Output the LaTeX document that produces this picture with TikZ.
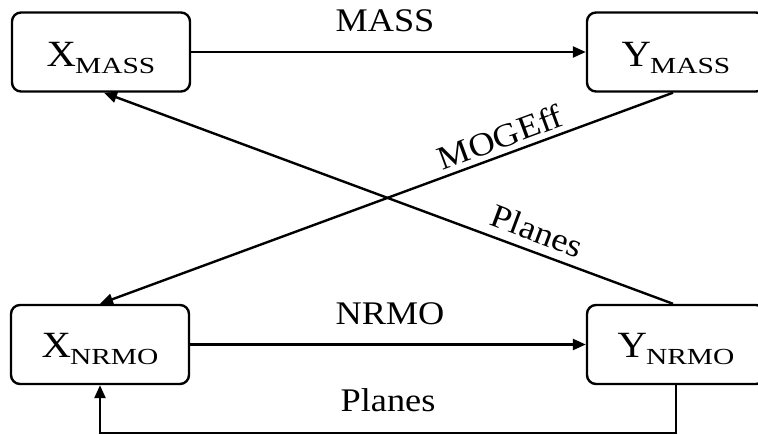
\documentclass[tikz,border=0pt]{standalone}
\usepackage{fontspec}
\setmainfont{Liberation Serif}
\usetikzlibrary{arrows.meta,calc}
\newcommand\lowsub[1]{\kern-1pt\raisebox{-7pt}{\scalebox{1.28}[1]{\fontsize{23}{23}\selectfont #1}}}
\newcommand\widetext[1]{\scalebox{1.1}[1]{#1}}
\begin{document}
\begin{tikzpicture}[x=1pt,y=-1pt,
  box/.style={draw,line width=2.4pt,rounded corners=9pt,minimum width=178pt,minimum height=79pt,
    inner sep=0pt,text height=30pt,text depth=0pt,font=\fontsize{37}{40}\selectfont},
  conn/.style={line width=2.4pt,-{Triangle[length=13pt,width=11pt]}},
  lbl/.style={font=\fontsize{33}{40}\selectfont,inner sep=0pt}]
\useasboundingbox (0,0) rectangle (758,435);
\node[box] (xm) at (101,52) {\widetext{X}\lowsub{MASS}};
\node[box] (ym) at (676,52) {\widetext{Y}\lowsub{MASS}};
\node[box,text height=26pt] (xn) at (100,344.5) {\widetext{X}\lowsub{NRMO}};
\node[box,text height=26pt] (yn) at (676,344.5) {\widetext{Y}\lowsub{NRMO}};
\draw[conn] (xm.east) -- (ym.west);
\draw[conn] (xn.east) -- (yn.west);
\draw[conn] ($(ym.south)+(-3,0)$) -- (xn.north);
\draw[conn] ($(yn.north)+(-3,0)$) -- ($(xm.south)+(3,0)$);
\draw[conn] (yn.south) -- ++(0,48) -| (xn.south);
\node[lbl,anchor=base] (lmass) at (385,32) {\widetext{MASS}};
\node[lbl,anchor=base] (lnrmo) at (390,325) {\widetext{NRMO}};
\node[lbl,anchor=base] (lpl) at (388,412) {\widetext{Planes}};
\node[lbl,rotate=20.3] (lmog) at (500,137) {\widetext{MOGEff}};
\node[lbl,rotate=-20.6] (lpl2) at (537,231) {\widetext{Planes}};
\end{tikzpicture}
\end{document}
